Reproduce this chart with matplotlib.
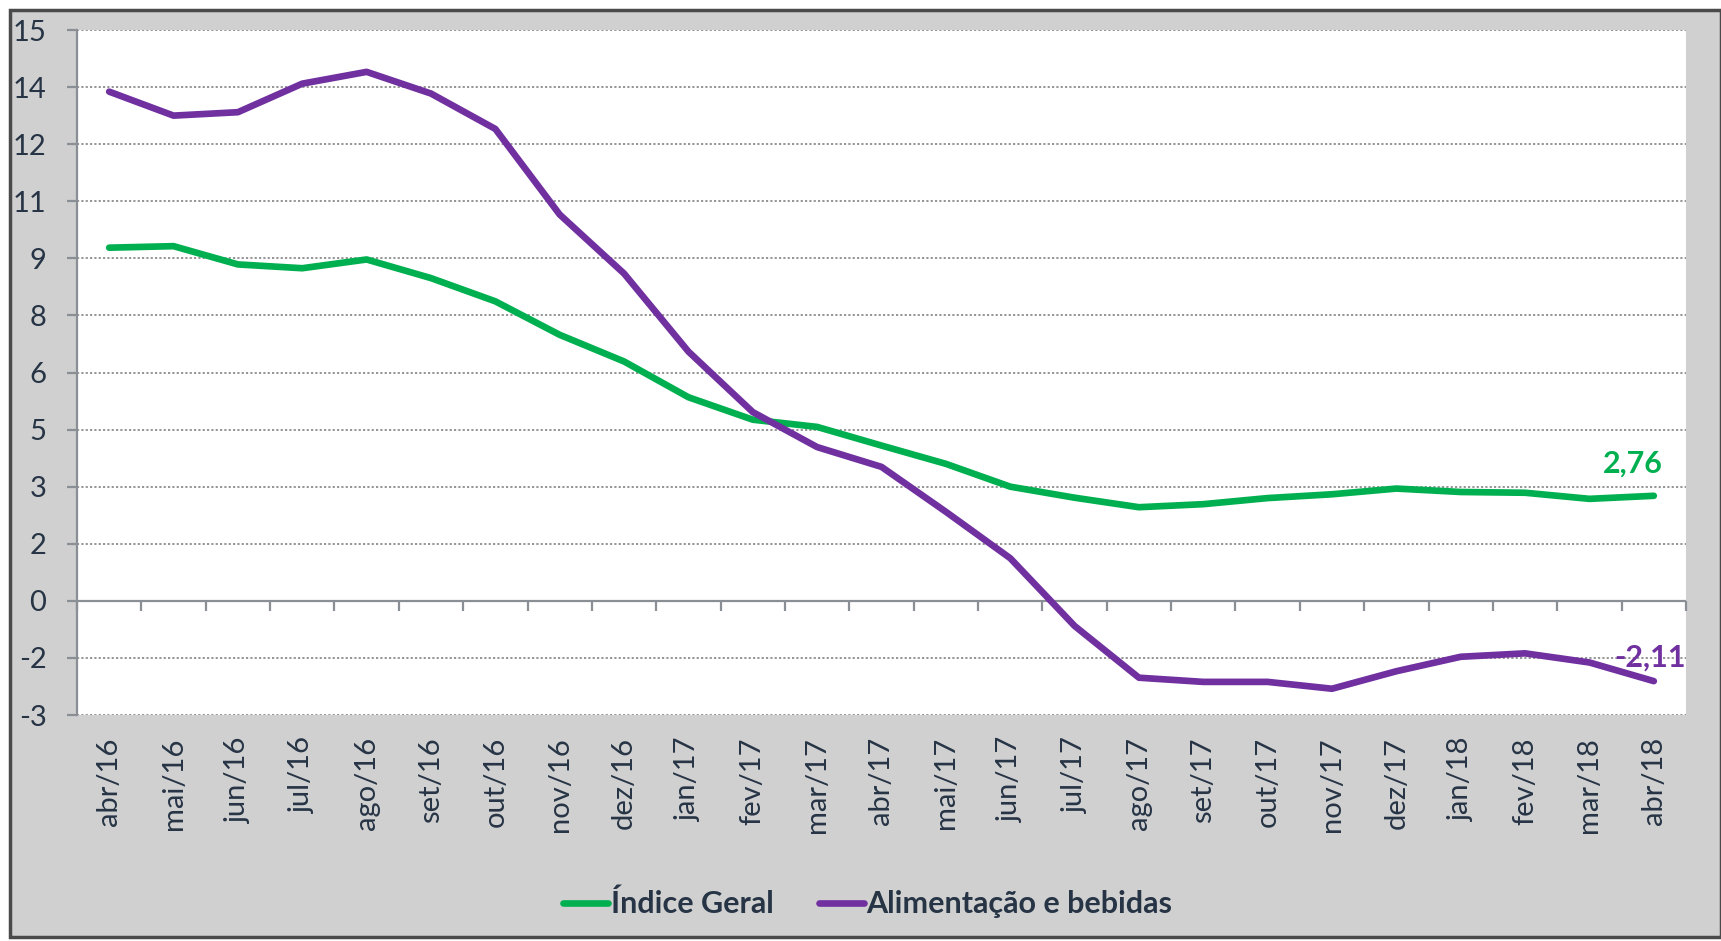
import matplotlib
matplotlib.use("Agg")
import matplotlib.pyplot as plt
from matplotlib.patches import Rectangle
import numpy as np

months = ["abr/16", "mai/16", "jun/16", "jul/16", "ago/16", "set/16", "out/16", "nov/16",
          "dez/16", "jan/17", "fev/17", "mar/17", "abr/17", "mai/17", "jun/17", "jul/17",
          "ago/17", "set/17", "out/17", "nov/17", "dez/17", "jan/18", "fev/18", "mar/18", "abr/18"]
indice_geral = [9.28, 9.32, 8.84, 8.74, 8.97, 8.48, 7.87, 6.99, 6.29, 5.35, 4.76, 4.57, 4.08,
                3.60, 3.00, 2.71, 2.46, 2.54, 2.70, 2.80, 2.95, 2.86, 2.84, 2.68, 2.76]
alimentacao = [13.38, 12.75, 12.84, 13.59, 13.90, 13.33, 12.40, 10.15, 8.60, 6.55, 4.96, 4.04,
               3.52, 2.34, 1.12, -0.66, -2.02, -2.13, -2.13, -2.31, -1.85, -1.47, -1.38, -1.62, -2.11]
y_ticks = [-3, -1.5, 0, 1.5, 3, 4.5, 6, 7.5, 9, 10.5, 12, 13.5, 15]
y_tick_labels = ["-3", "-2", "0", "2", "3", "5", "6", "8", "9", "11", "12", "14", "15"]
series_names = ["Índice Geral", "Alimentação e bebidas"]
last_labels = ["2,76", "-2,11"]

plt.rcParams['font.family'] = ['Lato', 'DejaVu Sans']
txt = "#263445"
green = "#00b050"
purple = "#7030a0"
axcol = "#8a8f96"

W, H = 1721, 941
fig = plt.figure(figsize=(W / 100, H / 100), dpi=100)
fig.patch.set_facecolor("white")
frame = Rectangle((10 / W, 4 / H), 1 - 10 / W, 1 - 14 / H, transform=fig.transFigure,
                  facecolor="#d0d0d0", edgecolor="#4a4a4a", linewidth=2.5, zorder=-10)
fig.add_artist(frame)

left, right, top, bottom = 77, 1686, 30, 715
ax = fig.add_axes([left / W, 1 - bottom / H, (right - left) / W, (bottom - top) / H])
ax.set_zorder(1)
ax.set_facecolor("white")

x = np.arange(len(months))
ax.plot(x, indice_geral, color=green, lw=4.8, solid_capstyle="round", solid_joinstyle="round",
        label=series_names[0], zorder=3)
ax.plot(x, alimentacao, color=purple, lw=4.8, solid_capstyle="round", solid_joinstyle="round",
        label=series_names[1], zorder=3)

ax.set_xlim(-0.5, len(months) - 0.5)
ax.set_ylim(-3, 15)
ax.set_yticks(y_ticks)
ax.set_yticklabels(y_tick_labels)
for yv in y_ticks:
    if yv != 0:
        ax.axhline(yv, color="#8c8c8c", lw=1.3, ls=(0, (1.2, 1.2)), zorder=1)

for s in ["top", "right", "bottom"]:
    ax.spines[s].set_visible(False)
ax.spines["left"].set_color(axcol)
ax.spines["left"].set_linewidth(1.6)
ax.tick_params(axis="y", direction="out", length=7, width=1.6, color=axcol,
               labelsize=21, labelcolor=txt, pad=15)

ax.set_xticks(x)
ax.set_xticklabels(months, rotation=90, va="top", ha="center")
ax.tick_params(axis="x", length=0, labelsize=21, labelcolor=txt, pad=16)

# zero axis with category boundary ticks
ax.axhline(0, color=axcol, lw=1.6, zorder=2)
sec = ax.secondary_xaxis(3 / 18)
sec.set_xticks(np.arange(-0.5, len(months) + 0.5, 1.0))
sec.set_xticklabels([])
sec.spines["bottom"].set_visible(False)
sec.tick_params(axis="x", direction="out", length=7, width=1.6, color=axcol)

ax.annotate(last_labels[0], (x[-1], indice_geral[-1]), xytext=(-15, 23), textcoords="offset points",
            ha="center", va="center", color=green, fontsize=22, fontweight="bold")
ax.annotate(last_labels[1], (x[-1], alimentacao[-1]), xytext=(-3, 17), textcoords="offset points",
            ha="center", va="center", color=purple, fontsize=22, fontweight="bold")

leg = fig.legend(loc="center", bbox_to_anchor=(868 / W, 1 - 904 / H), ncol=2, frameon=False,
                 fontsize=22, handlelength=1.45, handletextpad=0.1, columnspacing=1.5)
for t in leg.get_texts():
    t.set_color(txt)
    t.set_fontweight("bold")

fig.savefig("out.png", dpi=100)
